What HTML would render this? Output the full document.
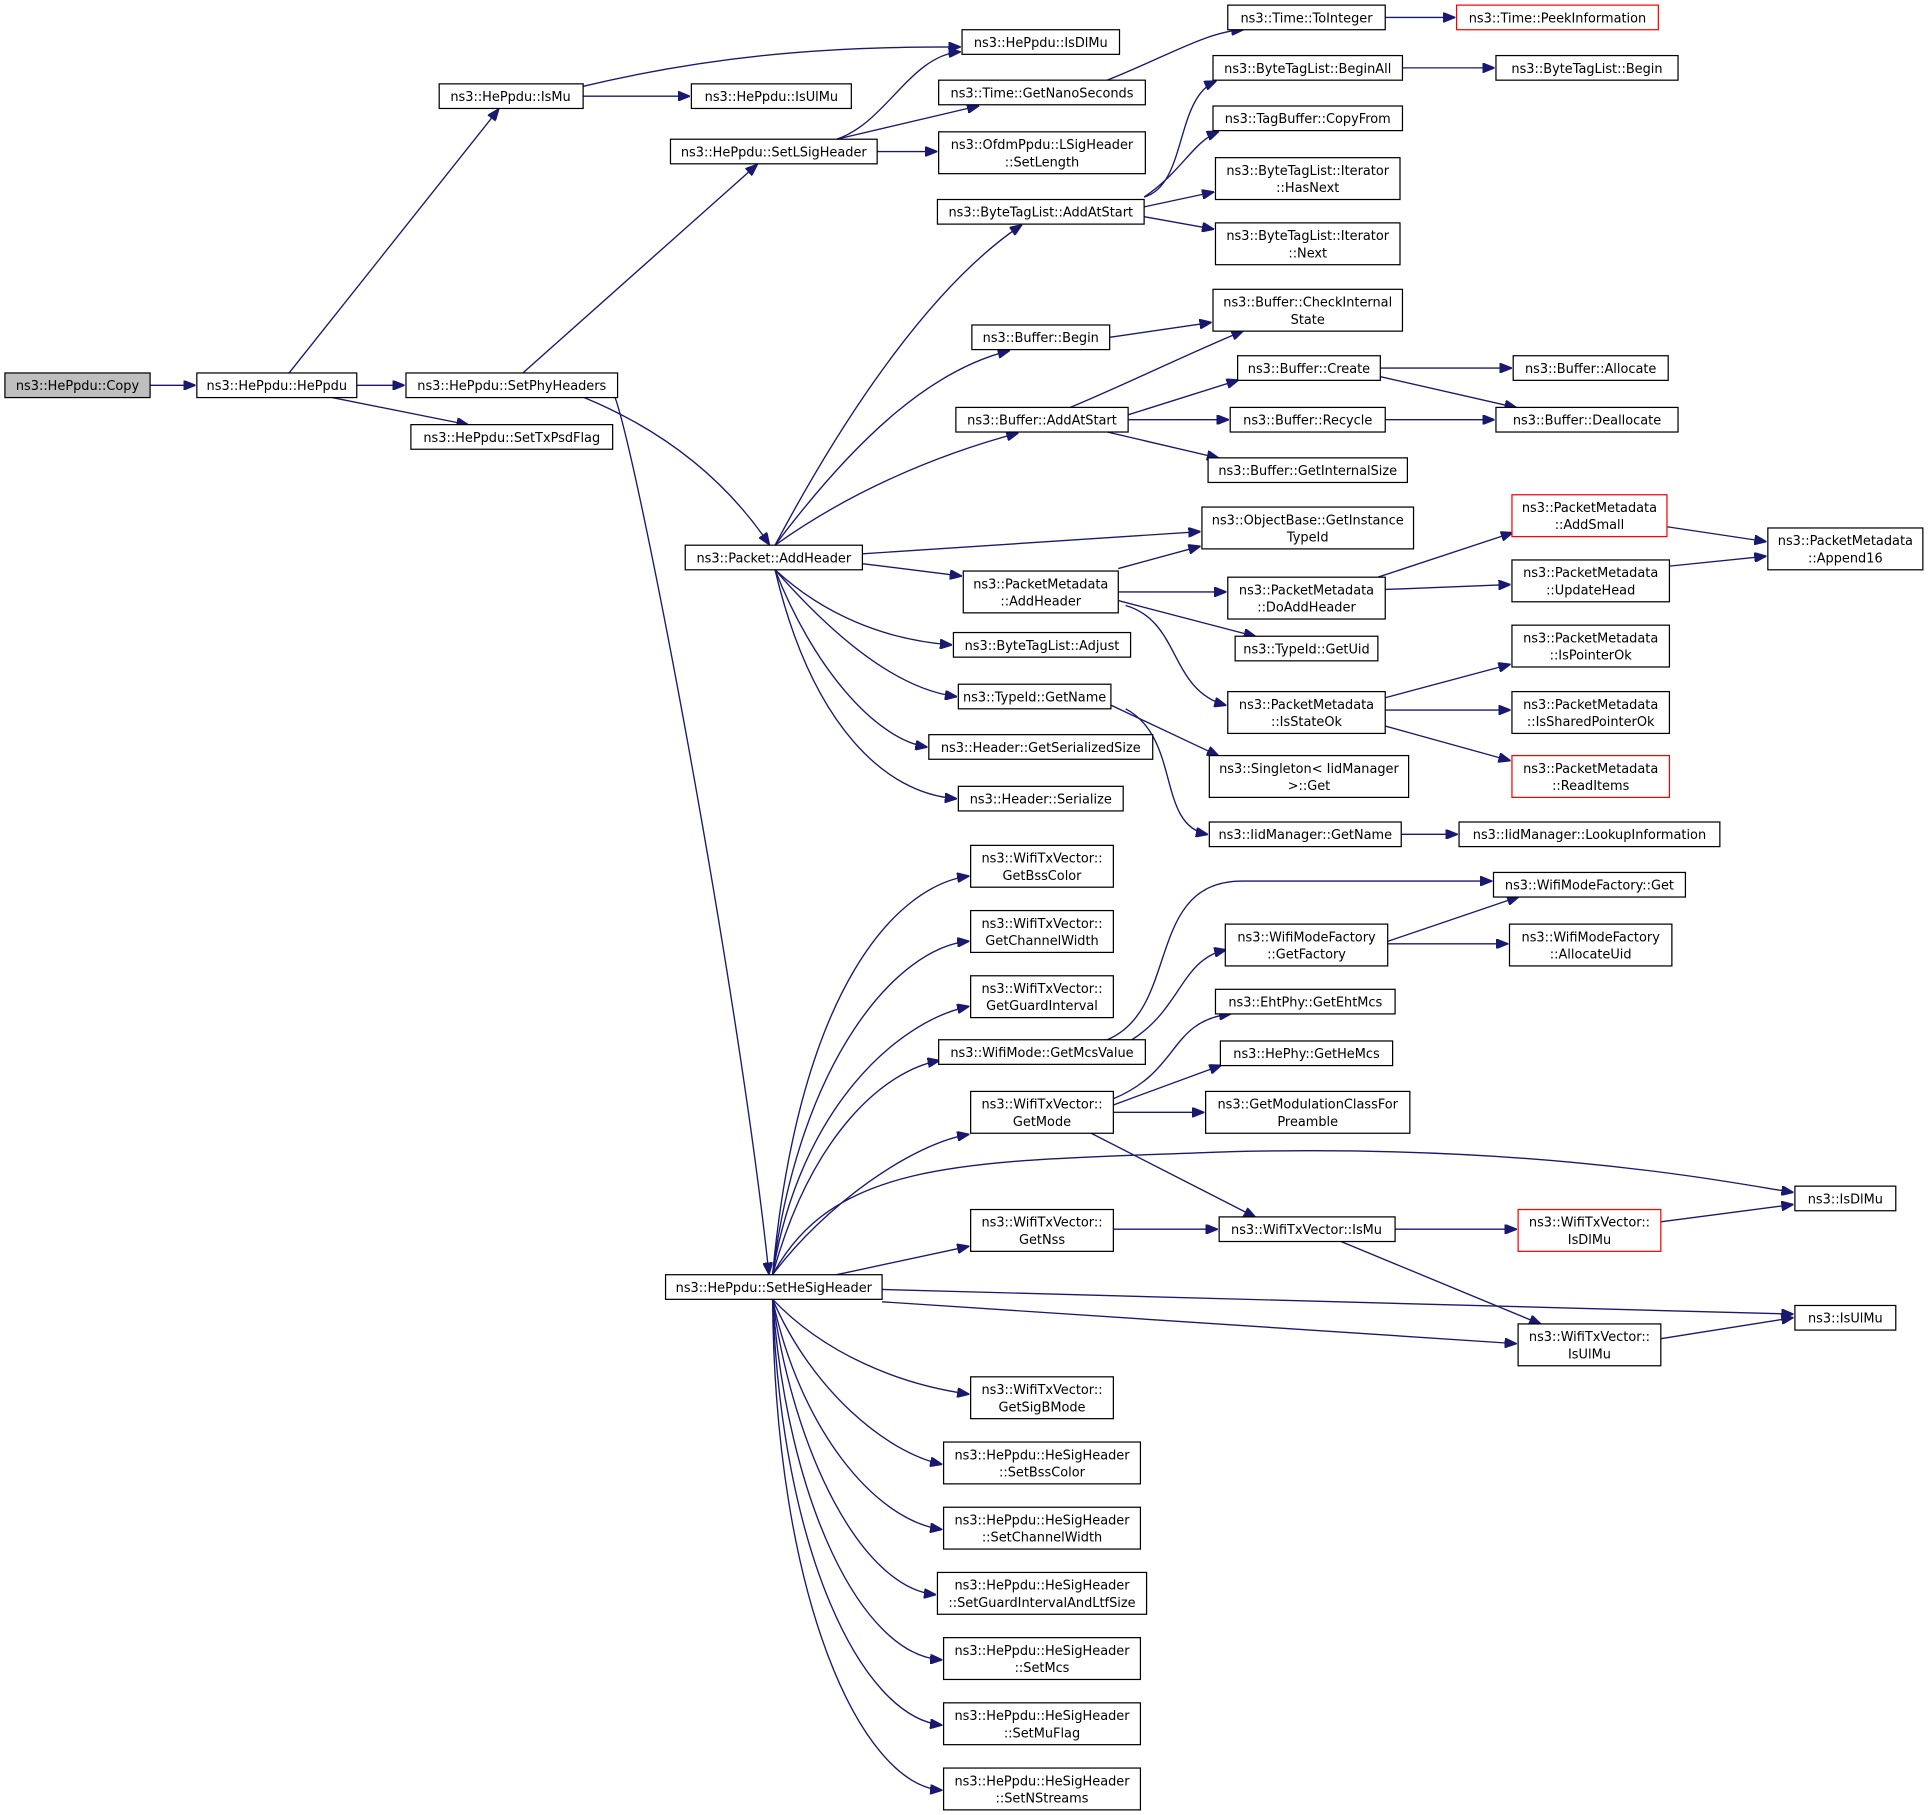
<!DOCTYPE html>
<html><head><meta charset="utf-8"><style>
html,body{margin:0;padding:0;background:#fff;}
svg{display:block;}
text{font-family:"DejaVu Sans","Liberation Sans",sans-serif;font-size:10.5px;fill:#000;}
.b{fill:#fff;stroke:#000;stroke-width:1;}
.r{fill:#fff;stroke:#f00;stroke-width:1;}
.g{fill:#bfbfbf;stroke:#000;stroke-width:1;}
path{fill:none;stroke:#191970;stroke-width:1.1;marker-end:url(#a);}
</style></head><body>
<svg width="1929" height="1815" viewBox="0 0 1568 1475" xmlns="http://www.w3.org/2000/svg">
<defs><marker id="a" markerWidth="10" markerHeight="8" refX="9" refY="4" orient="auto" markerUnits="userSpaceOnUse"><polygon points="0,0 10,4 0,8" fill="#191970" stroke="#191970"/></marker></defs>
<g text-anchor="middle">
<!-- edges -->
<path d="M122,313 L158,313"/>
<path d="M290,313 L328,313"/>
<path d="M270,323 L380,345"/>
<path d="M235,303 L405,89"/>
<path d="M474,70 C600,40 700,38 780,38"/>
<path d="M474,78 L560,78"/>
<path d="M425,303 L615,134"/>
<path d="M475,323 C540,350 590,390 625,442"/>
<path d="M500,323 C520,380 600,800 625,1035"/>
<path d="M680,113 C720,100 740,45 780,42"/>
<path d="M713,123 L761,123"/>
<path d="M680,113 L795,86"/>
<path d="M900,65 C950,45 980,26 1010,24"/>
<path d="M1126,14 L1182,14"/>
<path d="M630,443 C690,330 760,230 830,183"/>
<path d="M630,443 C700,350 760,300 820,285"/>
<path d="M630,443 C690,400 760,370 827,352"/>
<path d="M701,450 L975,432"/>
<path d="M701,458 L781,468"/>
<path d="M630,463 C670,500 720,520 773,524"/>
<path d="M630,463 C680,520 730,560 777,566"/>
<path d="M630,463 C660,540 710,600 753,607"/>
<path d="M630,463 C660,590 720,645 777,649"/>
<path d="M930,160 C965,150 955,80 988,66"/>
<path d="M930,160 C960,140 970,115 990,107"/>
<path d="M930,168 L986,156"/>
<path d="M930,176 L986,186"/>
<path d="M1140,55 L1214,55"/>
<path d="M902,274 L984,262"/>
<path d="M870,331 C920,310 960,290 1010,269"/>
<path d="M917,337 L1006,309"/>
<path d="M917,341 L998,341"/>
<path d="M900,351 L990,372"/>
<path d="M1122,299 L1228,299"/>
<path d="M1122,306 L1232,331"/>
<path d="M1126,341 L1214,341"/>
<path d="M909,462 L975,444"/>
<path d="M909,481 L996,481"/>
<path d="M909,488 L1020,517"/>
<path d="M915,492 C960,505 950,560 996,573"/>
<path d="M1120,469 L1229,433"/>
<path d="M1126,479 L1227,475"/>
<path d="M1355,428 L1435,440"/>
<path d="M1357,460 L1435,452"/>
<path d="M1126,567 L1227,540"/>
<path d="M1126,577 L1227,577"/>
<path d="M1126,590 L1227,618"/>
<path d="M903,573 L990,614"/>
<path d="M915,576 C960,600 940,670 981,678"/>
<path d="M1139,678 L1184,678"/>
<path d="M900,845 C960,820 930,716 1010,716 L1212,716"/>
<path d="M920,845 C960,820 960,780 996,772"/>
<path d="M1128,765 L1234,729"/>
<path d="M1128,767 L1225,767"/>
<path d="M905,893 C960,870 950,830 1000,824"/>
<path d="M905,898 L992,866"/>
<path d="M905,904 L978,904"/>
<path d="M885,920 L1020,989"/>
<path d="M905,999 L989,999"/>
<path d="M1134,999 L1232,999"/>
<path d="M1090,1009 L1252,1076"/>
<path d="M1350,993 L1457,979"/>
<path d="M1350,1088 L1457,1071"/>
<path d="M628,1036 C650,800 730,720 787,712"/>
<path d="M628,1036 C650,860 730,770 787,765"/>
<path d="M628,1036 C650,900 730,830 787,818"/>
<path d="M628,1036 C660,920 720,870 763,862"/>
<path d="M628,1036 C670,980 740,930 787,922"/>
<path d="M628,1036 C680,940 790,944 1000,936 C1250,930 1400,960 1457,969"/>
<path d="M680,1036 L787,1013"/>
<path d="M717,1048 L1457,1068"/>
<path d="M717,1058 L1232,1092"/>
<path d="M628,1056 C670,1100 730,1125 787,1133"/>
<path d="M628,1056 C660,1130 720,1180 765,1190"/>
<path d="M628,1056 C650,1160 710,1235 765,1243"/>
<path d="M628,1056 C645,1180 700,1290 760,1296"/>
<path d="M628,1056 C640,1220 700,1345 765,1349"/>
<path d="M628,1056 C635,1260 700,1395 765,1402"/>
<path d="M628,1056 C630,1300 700,1450 765,1455"/>
<!-- nodes -->
<rect class="g" x="4" y="303" width="118" height="20"/><text x="63" y="317">ns3::HePpdu::Copy</text>
<rect class="b" x="160" y="303" width="130" height="20"/><text x="225" y="317">ns3::HePpdu::HePpdu</text>
<rect class="b" x="357" y="68" width="117" height="20"/><text x="415" y="82">ns3::HePpdu::IsMu</text>
<rect class="b" x="330" y="303" width="172" height="20"/><text x="416" y="317">ns3::HePpdu::SetPhyHeaders</text>
<rect class="b" x="334" y="345" width="164" height="20"/><text x="416" y="359">ns3::HePpdu::SetTxPsdFlag</text>
<rect class="b" x="782" y="24" width="128" height="20"/><text x="846" y="38">ns3::HePpdu::IsDlMu</text>
<rect class="b" x="562" y="68" width="130" height="20"/><text x="627" y="82">ns3::HePpdu::IsUlMu</text>
<rect class="b" x="545" y="113" width="168" height="20"/><text x="629" y="127">ns3::HePpdu::SetLSigHeader</text>
<rect class="b" x="763" y="65" width="168" height="20"/><text x="847" y="79">ns3::Time::GetNanoSeconds</text>
<rect class="b" x="998" y="4" width="128" height="20"/><text x="1062" y="18">ns3::Time::ToInteger</text>
<rect class="r" x="1184" y="4" width="164" height="20"/><text x="1266" y="18">ns3::Time::PeekInformation</text>
<rect class="b" x="763" y="107" width="168" height="34"/><text x="847" y="121">ns3::OfdmPpdu::LSigHeader</text><text x="847" y="135">::SetLength</text>
<rect class="b" x="986" y="45" width="154" height="20"/><text x="1063" y="59">ns3::ByteTagList::BeginAll</text>
<rect class="b" x="1216" y="45" width="148" height="20"/><text x="1290" y="59">ns3::ByteTagList::Begin</text>
<rect class="b" x="986" y="86" width="154" height="20"/><text x="1063" y="100">ns3::TagBuffer::CopyFrom</text>
<rect class="b" x="762" y="162" width="168" height="20"/><text x="846" y="176">ns3::ByteTagList::AddAtStart</text>
<rect class="b" x="988" y="128" width="150" height="34"/><text x="1063" y="142">ns3::ByteTagList::Iterator</text><text x="1063" y="156">::HasNext</text>
<rect class="b" x="988" y="181" width="150" height="34"/><text x="1063" y="195">ns3::ByteTagList::Iterator</text><text x="1063" y="209">::Next</text>
<rect class="b" x="986" y="235" width="154" height="34"/><text x="1063" y="249">ns3::Buffer::CheckInternal</text><text x="1063" y="263">State</text>
<rect class="b" x="790" y="264" width="112" height="20"/><text x="846" y="278">ns3::Buffer::Begin</text>
<rect class="b" x="1006" y="289" width="116" height="20"/><text x="1064" y="303">ns3::Buffer::Create</text>
<rect class="b" x="1230" y="289" width="126" height="20"/><text x="1293" y="303">ns3::Buffer::Allocate</text>
<rect class="b" x="777" y="331" width="140" height="20"/><text x="847" y="345">ns3::Buffer::AddAtStart</text>
<rect class="b" x="1000" y="331" width="126" height="20"/><text x="1063" y="345">ns3::Buffer::Recycle</text>
<rect class="b" x="1216" y="331" width="148" height="20"/><text x="1290" y="345">ns3::Buffer::Deallocate</text>
<rect class="b" x="982" y="372" width="162" height="20"/><text x="1063" y="386">ns3::Buffer::GetInternalSize</text>
<rect class="b" x="977" y="412" width="172" height="34"/><text x="1063" y="426">ns3::ObjectBase::GetInstance</text><text x="1063" y="440">TypeId</text>
<rect class="b" x="557" y="443" width="144" height="20"/><text x="629" y="457">ns3::Packet::AddHeader</text>
<rect class="b" x="783" y="464" width="126" height="34"/><text x="846" y="478">ns3::PacketMetadata</text><text x="846" y="492">::AddHeader</text>
<rect class="r" x="1229" y="402" width="126" height="34"/><text x="1292" y="416">ns3::PacketMetadata</text><text x="1292" y="430">::AddSmall</text>
<rect class="b" x="1437" y="429" width="126" height="34"/><text x="1500" y="443">ns3::PacketMetadata</text><text x="1500" y="457">::Append16</text>
<rect class="b" x="998" y="469" width="128" height="34"/><text x="1062" y="483">ns3::PacketMetadata</text><text x="1062" y="497">::DoAddHeader</text>
<rect class="b" x="1229" y="455" width="128" height="34"/><text x="1293" y="469">ns3::PacketMetadata</text><text x="1293" y="483">::UpdateHead</text>
<rect class="b" x="775" y="514" width="144" height="20"/><text x="847" y="528">ns3::ByteTagList::Adjust</text>
<rect class="b" x="1004" y="517" width="116" height="20"/><text x="1062" y="531">ns3::TypeId::GetUid</text>
<rect class="b" x="779" y="556" width="124" height="20"/><text x="841" y="570">ns3::TypeId::GetName</text>
<rect class="b" x="1229" y="508" width="128" height="34"/><text x="1293" y="522">ns3::PacketMetadata</text><text x="1293" y="536">::IsPointerOk</text>
<rect class="b" x="998" y="562" width="128" height="34"/><text x="1062" y="576">ns3::PacketMetadata</text><text x="1062" y="590">::IsStateOk</text>
<rect class="b" x="1229" y="562" width="128" height="34"/><text x="1293" y="576">ns3::PacketMetadata</text><text x="1293" y="590">::IsSharedPointerOk</text>
<rect class="r" x="1229" y="614" width="128" height="34"/><text x="1293" y="628">ns3::PacketMetadata</text><text x="1293" y="642">::ReadItems</text>
<rect class="b" x="755" y="597" width="182" height="20"/><text x="846" y="611">ns3::Header::GetSerializedSize</text>
<rect class="b" x="983" y="614" width="162" height="34"/><text x="1064" y="628">ns3::Singleton&lt; IidManager</text><text x="1064" y="642">&gt;::Get</text>
<rect class="b" x="779" y="639" width="134" height="20"/><text x="846" y="653">ns3::Header::Serialize</text>
<rect class="b" x="983" y="668" width="156" height="20"/><text x="1061" y="682">ns3::IidManager::GetName</text>
<rect class="b" x="1186" y="668" width="212" height="20"/><text x="1292" y="682">ns3::IidManager::LookupInformation</text>
<rect class="b" x="789" y="687" width="116" height="34"/><text x="847" y="701">ns3::WifiTxVector::</text><text x="847" y="715">GetBssColor</text>
<rect class="b" x="789" y="740" width="116" height="34"/><text x="847" y="754">ns3::WifiTxVector::</text><text x="847" y="768">GetChannelWidth</text>
<rect class="b" x="789" y="793" width="116" height="34"/><text x="847" y="807">ns3::WifiTxVector::</text><text x="847" y="821">GetGuardInterval</text>
<rect class="b" x="1214" y="709" width="156" height="20"/><text x="1292" y="723">ns3::WifiModeFactory::Get</text>
<rect class="b" x="996" y="751" width="132" height="34"/><text x="1062" y="765">ns3::WifiModeFactory</text><text x="1062" y="779">::GetFactory</text>
<rect class="b" x="1227" y="751" width="132" height="34"/><text x="1293" y="765">ns3::WifiModeFactory</text><text x="1293" y="779">::AllocateUid</text>
<rect class="b" x="763" y="845" width="168" height="20"/><text x="847" y="859">ns3::WifiMode::GetMcsValue</text>
<rect class="b" x="988" y="804" width="146" height="20"/><text x="1061" y="818">ns3::EhtPhy::GetEhtMcs</text>
<rect class="b" x="992" y="846" width="140" height="20"/><text x="1062" y="860">ns3::HePhy::GetHeMcs</text>
<rect class="b" x="789" y="887" width="116" height="34"/><text x="847" y="901">ns3::WifiTxVector::</text><text x="847" y="915">GetMode</text>
<rect class="b" x="980" y="887" width="166" height="34"/><text x="1063" y="901">ns3::GetModulationClassFor</text><text x="1063" y="915">Preamble</text>
<rect class="b" x="1459" y="964" width="82" height="20"/><text x="1500" y="978">ns3::IsDlMu</text>
<rect class="b" x="789" y="983" width="116" height="34"/><text x="847" y="997">ns3::WifiTxVector::</text><text x="847" y="1011">GetNss</text>
<rect class="b" x="991" y="989" width="143" height="20"/><text x="1062" y="1003">ns3::WifiTxVector::IsMu</text>
<rect class="r" x="1234" y="983" width="116" height="34"/><text x="1292" y="997">ns3::WifiTxVector::</text><text x="1292" y="1011">IsDlMu</text>
<rect class="b" x="541" y="1036" width="176" height="20"/><text x="629" y="1050">ns3::HePpdu::SetHeSigHeader</text>
<rect class="b" x="1459" y="1061" width="82" height="20"/><text x="1500" y="1075">ns3::IsUlMu</text>
<rect class="b" x="1234" y="1076" width="116" height="34"/><text x="1292" y="1090">ns3::WifiTxVector::</text><text x="1292" y="1104">IsUlMu</text>
<rect class="b" x="789" y="1119" width="116" height="34"/><text x="847" y="1133">ns3::WifiTxVector::</text><text x="847" y="1147">GetSigBMode</text>
<rect class="b" x="767" y="1172" width="160" height="34"/><text x="847" y="1186">ns3::HePpdu::HeSigHeader</text><text x="847" y="1200">::SetBssColor</text>
<rect class="b" x="767" y="1225" width="160" height="34"/><text x="847" y="1239">ns3::HePpdu::HeSigHeader</text><text x="847" y="1253">::SetChannelWidth</text>
<rect class="b" x="762" y="1278" width="170" height="34"/><text x="847" y="1292">ns3::HePpdu::HeSigHeader</text><text x="847" y="1306">::SetGuardIntervalAndLtfSize</text>
<rect class="b" x="767" y="1331" width="160" height="34"/><text x="847" y="1345">ns3::HePpdu::HeSigHeader</text><text x="847" y="1359">::SetMcs</text>
<rect class="b" x="767" y="1384" width="160" height="34"/><text x="847" y="1398">ns3::HePpdu::HeSigHeader</text><text x="847" y="1412">::SetMuFlag</text>
<rect class="b" x="767" y="1437" width="160" height="34"/><text x="847" y="1451">ns3::HePpdu::HeSigHeader</text><text x="847" y="1465">::SetNStreams</text>
</g>
</svg>
</body></html>
